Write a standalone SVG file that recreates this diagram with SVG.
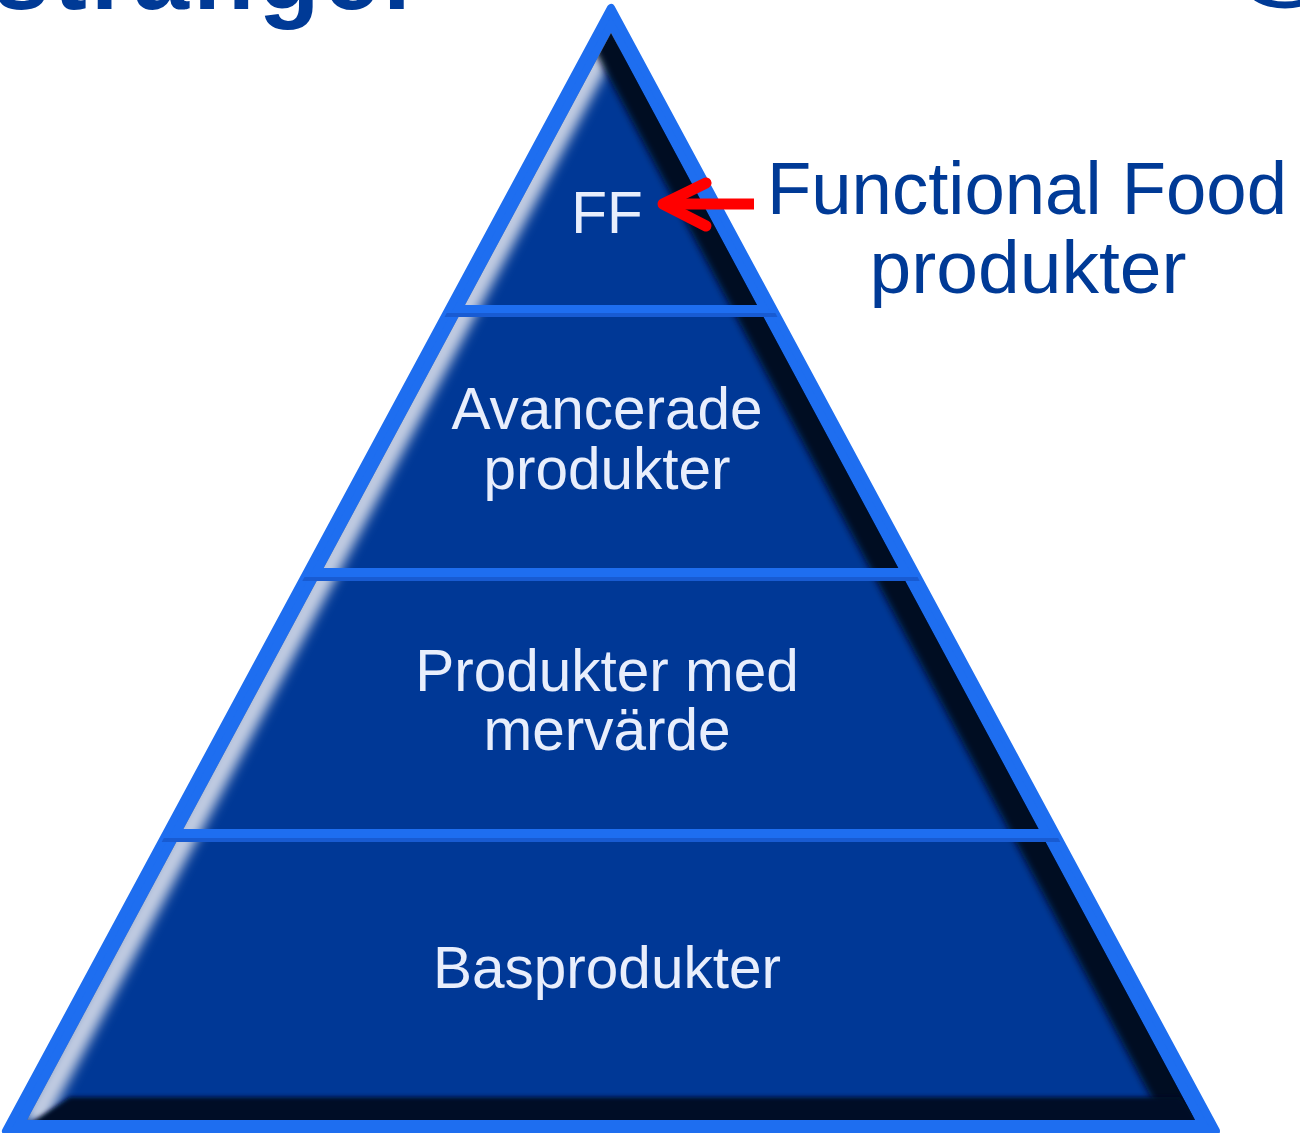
<svg xmlns="http://www.w3.org/2000/svg" width="1300" height="1133" viewBox="0 0 1300 1133">
  <style>
    .tierText { font-family: "Liberation Sans", Arial, sans-serif; font-size: 58.5px; fill: #e8eefc; text-anchor: middle; }
    .callout { font-family: "Liberation Sans", Arial, sans-serif; font-size: 75px; fill: #003a96; text-anchor: middle; }
    .title { font-family: "Liberation Sans", Arial, sans-serif; font-size: 100px; font-weight: bold; fill: #003a96; }
    .tier { fill: #003896; }
  </style>
  <defs>
    <filter id="softLight" filterUnits="userSpaceOnUse" x="0" y="0" width="1300" height="1133">
      <feGaussianBlur stdDeviation="6"/>
    </filter>
    <filter id="softDark" filterUnits="userSpaceOnUse" x="0" y="0" width="1300" height="1133">
      <feGaussianBlur stdDeviation="3.5"/>
    </filter>
    <filter id="softEdge" filterUnits="userSpaceOnUse" x="0" y="0" width="1300" height="1133">
      <feGaussianBlur stdDeviation="2"/>
    </filter>
    <!-- inner area of the four tiers; the gaps between them are the bright separator bands -->
    <clipPath id="tiersClip">
      <polygon points="611,33 757,305 465,305"/>
      <polygon points="458.5,317 763.5,317 898.3,568 323.7,568"/>
      <polygon points="316.7,581 905.3,581 1038.6,829 183.4,829"/>
      <polygon points="176.4,842 1045.6,842 1195,1120 27,1120"/>
    </clipPath>
    <clipPath id="outerClip">
      <polygon points="611,8 6,1131 1216,1131"/>
    </clipPath>
  </defs>

  <!-- heading, running off the top edge -->
  <text class="title" x="426" y="9" text-anchor="end" letter-spacing="4">Produktstränger</text>

  <!-- logo ring, running off the top right corner -->
  <ellipse cx="1285" cy="-20" rx="40" ry="25" fill="none" stroke="#003a96" stroke-width="7"/>

  <g id="pyramid">
    <!-- bright outer frame -->
    <polygon id="frame" points="611,8 6,1131 1216,1131" fill="#1e6ef0" stroke="#1e6ef0" stroke-width="8" stroke-linejoin="round"/>

    <!-- darker lower edge of each separator band -->
    <g clip-path="url(#outerClip)" fill="#1652c4" opacity="0.7">
      <rect x="0" y="313" width="1300" height="4"/>
      <rect x="0" y="577" width="1300" height="4"/>
      <rect x="0" y="838" width="1300" height="4"/>
    </g>

    <g id="tier-ff">
      <polygon class="tier" points="611,33 757,305 465,305"/>
    </g>
    <g id="tier-avancerade">
      <polygon class="tier" points="458.5,317 763.5,317 898.3,568 323.7,568"/>
    </g>
    <g id="tier-mervarde">
      <polygon class="tier" points="316.7,581 905.3,581 1038.6,829 183.4,829"/>
    </g>
    <g id="tier-bas">
      <polygon class="tier" points="176.4,842 1045.6,842 1195,1120 27,1120"/>
    </g>

    <!-- bevel shading: light left face, dark right face, dark base -->
    <g clip-path="url(#tiersClip)">
      <line x1="619" y1="20" x2="33" y2="1122" stroke="#c3cde2" stroke-width="24" filter="url(#softLight)"/>
      <line x1="601" y1="20" x2="1187" y2="1122" stroke="#000a24" stroke-width="40" filter="url(#softDark)"/>
      <polygon points="20,1130 1205,1130 1180,1097 70,1097" fill="#000c28" filter="url(#softEdge)"/>
    </g>

    <!-- tier labels -->
    <text class="tierText" x="607" y="233">FF</text>
    <text class="tierText" x="607" y="429">Avancerade</text>
    <text class="tierText" x="607" y="489">produkter</text>
    <text class="tierText" x="607" y="691">Produkter med</text>
    <text class="tierText" x="607" y="750">mervärde</text>
    <text class="tierText" x="607" y="988">Basprodukter</text>
  </g>

  <g id="connectors">
    <path d="M754,204 H670" stroke="#ff0000" stroke-width="11" fill="none"/>
    <path d="M706,183 L663,204 L706,226" stroke="#ff0000" stroke-width="11" fill="none" stroke-linecap="round" stroke-linejoin="round"/>
  </g>

  <g id="callout-label">
    <text class="callout" x="1027" y="214" textLength="520" lengthAdjust="spacingAndGlyphs">Functional Food</text>
    <text class="callout" x="1028" y="293">produkter</text>
  </g>
</svg>
